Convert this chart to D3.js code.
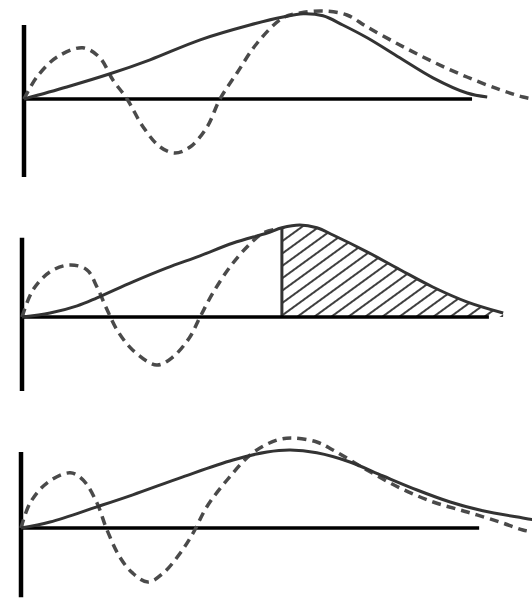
<!DOCTYPE html>
<html>
<head>
<meta charset="utf-8">
<script src="https://cdn.jsdelivr.net/npm/d3@7"></script>
<style>
html,body{margin:0;padding:0;background:#fff;}
svg{display:block;}
</style>
</head>
<body>
<svg id="chart" width="532" height="599"></svg>
<script>
// ---- data (x in time units, y in amplitude units) ----
const solid1X = [0,0.93,1.87,2.74,3.83,4.91,5.63,6.07,6.50,6.93,7.46,8.17,8.89,9.63,10.07];
const solid1Y = [0,0.30,0.63,0.98,1.48,1.85,2.05,2.13,2.08,1.85,1.53,1.03,0.53,0.15,0.05];
const dash1X = [0,0.28,0.72,1.28,1.65,1.93,2.24,2.59,2.96,3.28,3.61,3.98,4.26,4.63,5.07,5.63,6.00,6.50,7.02,7.46,8.17,8.89,9.63,10.35,10.85,11.3];
const dash1Y = [0,0.55,1.05,1.28,1.03,0.48,0,-0.70,-1.20,-1.35,-1.20,-0.70,0,0.65,1.40,2.03,2.15,2.20,2.10,1.80,1.35,0.93,0.55,0.23,0.05,-0.05];

const solid2X = [0,0.61,1.20,1.63,2.41,3.15,3.87,4.59,5.33,5.65,6.04,6.41,6.76,7.50,8.22,8.93,9.67,10.46];
const solid2Y = [0,0.10,0.28,0.48,0.88,1.23,1.53,1.85,2.10,2.23,2.30,2.23,2.05,1.63,1.18,0.75,0.38,0.10];
const dash2X = [0,0.24,0.61,1.04,1.41,1.63,1.85,2.07,2.41,2.93,3.28,3.65,3.87,4.15,4.52,4.89,5.24,5.54];
const dash2Y = [0,0.68,1.13,1.30,1.18,0.75,0.18,-0.33,-0.83,-1.20,-1.00,-0.50,0,0.60,1.25,1.75,2.10,2.20];
const hatchStart = 5.65;

const solid3X = [0,0.63,1.65,2.43,3.52,4.61,5.35,5.85,6.43,7.15,7.87,8.61,9.33,10.04,10.91,11.28];
const solid3Y = [0,0.15,0.53,0.83,1.28,1.70,1.90,1.95,1.88,1.65,1.30,0.95,0.65,0.43,0.25,0.18];
const dash3X = [0,0.20,0.57,1.07,1.35,1.65,1.87,2.15,2.43,2.76,3.09,3.46,3.74,4.04,4.48,5.04,5.57,5.91,6.43,6.78,7.52,8.24,8.96,9.70,10.41,10.91,11.28];
const dash3Y = [0,0.63,1.13,1.38,1.20,0.63,-0.05,-0.73,-1.13,-1.35,-1.13,-0.63,-0.13,0.53,1.20,1.88,2.20,2.25,2.15,1.95,1.45,1.00,0.65,0.40,0.15,-0.05,-0.13];

// axis extents per panel (data units)
const axisXEnd = [9.74, 10.15, 9.96];
const axisYTop = [1.85, 1.98, 1.90];
const axisYBottom = [-1.95, -1.85, -1.73];

// ---- layout ----
const panels = [
  {ox: 24, oy: 99,  solidX: solid1X, solidY: solid1Y, dashX: dash1X, dashY: dash1Y, hatch: false},
  {ox: 22, oy: 317, solidX: solid2X, solidY: solid2Y, dashX: dash2X, dashY: dash2Y, hatch: true},
  {ox: 21, oy: 528, solidX: solid3X, solidY: solid3Y, dashX: dash3X, dashY: dash3Y, hatch: false}
];
const pxPerX = 46, pxPerY = 40;

const svg = d3.select("#chart");
const defs = svg.append("defs");
const pat = defs.append("pattern")
  .attr("id", "hatch")
  .attr("patternUnits", "userSpaceOnUse")
  .attr("width", 10).attr("height", 20)
  .attr("patternTransform", "rotate(54)");
pat.append("line")
  .attr("x1", 1).attr("y1", 0).attr("x2", 1).attr("y2", 20)
  .attr("stroke", "#2a2a2a").attr("stroke-width", 1.8);

panels.forEach((p, i) => {
  const x = d3.scaleLinear().domain([0, 10]).range([p.ox, p.ox + 10 * pxPerX]);
  const y = d3.scaleLinear().domain([0, 1]).range([p.oy, p.oy - pxPerY]);
  const g = svg.append("g");

  const solidPts = p.solidX.map((v, k) => [v, p.solidY[k]]);
  const dashPts = p.dashX.map((v, k) => [v, p.dashY[k]]);

  const line = d3.line().x(d => x(d[0])).y(d => y(d[1])).curve(d3.curveCatmullRom.alpha(0.5));

  if (p.hatch) {
    const sub = solidPts.filter(d => d[0] >= hatchStart);
    const area = d3.area().x(d => x(d[0])).y0(y(0)).y1(d => y(d[1])).curve(d3.curveCatmullRom.alpha(0.5));
    g.append("path").attr("d", area(sub)).attr("fill", "url(#hatch)");
    g.append("line")
      .attr("x1", x(hatchStart)).attr("x2", x(hatchStart))
      .attr("y1", y(0)).attr("y2", y(p.solidY[p.solidX.indexOf(hatchStart)]))
      .attr("stroke", "#333").attr("stroke-width", 3);
  }

  // axes
  g.append("line")
    .attr("x1", x(0)).attr("x2", x(axisXEnd[i]))
    .attr("y1", y(0)).attr("y2", y(0))
    .attr("stroke", "#000").attr("stroke-width", 3.5);
  g.append("line")
    .attr("x1", x(0)).attr("x2", x(0))
    .attr("y1", y(axisYTop[i])).attr("y2", y(axisYBottom[i]))
    .attr("stroke", "#000").attr("stroke-width", 4.5);

  g.append("path").attr("d", line(dashPts))
    .attr("fill", "none").attr("stroke", "#4a4a4a")
    .attr("stroke-width", 3.5).attr("stroke-dasharray", "9 6");
  g.append("path").attr("d", line(solidPts))
    .attr("fill", "none").attr("stroke", "#333")
    .attr("stroke-width", 3);
});
</script>
</body>
</html>
